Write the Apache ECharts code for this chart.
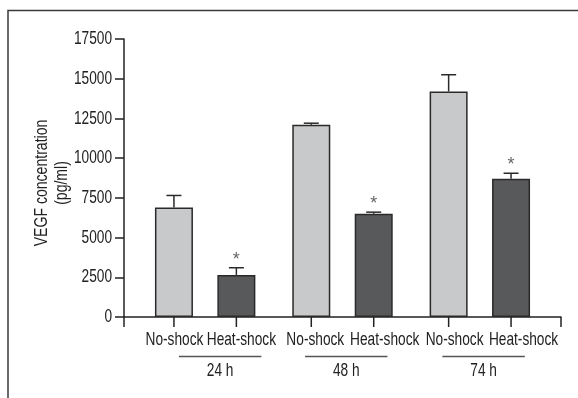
<!DOCTYPE html>
<html>
<head>
<meta charset="utf-8">
<script src="https://cdn.jsdelivr.net/npm/echarts@6/dist/echarts.min.js"></script>
<style>
html,body{margin:0;padding:0;background:#fff;}
#chart{width:578px;height:398px;}
</style>
</head>
<body>
<div id="chart"></div>
<script>
// ---- data ----
const groups = ['24 h', '48 h', '74 h'];
const conditions = ['No-shock', 'Heat-shock'];
const noShockMean = [6900, 12100, 14200];
const noShockSEM = [750, 100, 1050];
const heatShockMean = [2650, 6500, 8700];
const heatShockSEM = [450, 100, 350];
const heatShockSignificant = ['*', '*', '*'];
const yTickLabels = ['0', '2500', '5000', '7500', '10000', '12500', '15000', '17500'];
const yAxisTitle = ['VEGF concentration', '(pg/ml)'];
const yMin = 0, yMax = 17500, yInterval = 2500;

// ---- layout constants (not data) ----
const FAMILY = 'Liberation Sans';
const FS = 18.5;
const SX = 0.74; // horizontal condensing of text
const groupSpan = 11, condStep = 5, firstOffset = 4, xMax = 35;
const groupLabelShift = [1.2, 0.3, 0.3];
const catLabelShiftPx = [0.5, 5, 4, 11, 6, 12.5];
const colors = ['#c8c9cb', '#58595b'];

function txt(text, size, fill, align, vAlign) {
  return { text: text, fontSize: size, fontFamily: FAMILY, fill: fill, align: align, verticalAlign: vAlign };
}
function xOf(g, c) { return firstOffset + g * groupSpan + c * condStep; }

const means = [noShockMean, heatShockMean];
const sems = [noShockSEM, heatShockSEM];

const barData = [];
const errData = [];
const catLabelData = [];
const starData = [];
groups.forEach((g, gi) => {
  conditions.forEach((c, ci) => {
    const x = xOf(gi, ci);
    const m = means[ci][gi];
    barData.push({ value: [x, m], itemStyle: { color: colors[ci] } });
    errData.push([x, m, m + sems[ci][gi]]);
    catLabelData.push([x, c]);
    if (ci === 1 && heatShockSignificant[gi]) starData.push([x, m + sems[ci][gi], heatShockSignificant[gi]]);
  });
});
const tickXs = [0, xMax];
groups.forEach((g, gi) => conditions.forEach((c, ci) => tickXs.push(xOf(gi, ci))));
const groupData = groups.map((g, gi) => [(xOf(gi, 0) + xOf(gi, 1)) / 2 + groupLabelShift[gi], g]);

const chart = echarts.init(document.getElementById('chart'), null, { renderer: 'canvas' });
chart.setOption({
  animation: false,
  backgroundColor: '#fff',
  grid: { left: 124, right: 17, top: 39, bottom: 81 },
  graphic: [
    { type: 'polyline', shape: { points: [[8, 398], [8, 10.5], [578, 10.5]] },
      style: { stroke: '#3a3a3a', lineWidth: 1.5, fill: null } },
    { type: 'text', x: 42, y: 183, rotation: Math.PI / 2, scaleX: 0.76,
      style: txt(yAxisTitle[0], FS, '#222', 'center', 'middle') },
    { type: 'text', x: 62, y: 183, rotation: Math.PI / 2, scaleX: 0.76,
      style: txt(yAxisTitle[1], FS, '#222', 'center', 'middle') }
  ],
  xAxis: {
    type: 'value', min: 0, max: xMax,
    axisLine: { show: true, lineStyle: { color: '#222', width: 1.5 } },
    axisTick: { show: false }, axisLabel: { show: false }, splitLine: { show: false }
  },
  yAxis: {
    type: 'value', min: yMin, max: yMax, interval: yInterval,
    axisLine: { show: true, lineStyle: { color: '#222', width: 1.5 } },
    axisTick: { show: true, length: 9, lineStyle: { color: '#222', width: 1.5 } },
    axisLabel: { show: false },
    splitLine: { show: false }
  },
  series: [
    {
      type: 'bar', data: barData, barWidth: 38,
      itemStyle: { borderColor: '#2a2a2a', borderWidth: 1.5 }, z: 2
    },
    {
      type: 'custom', data: errData, z: 3, clip: false,
      renderItem: function (params, api) {
        const x = api.value(0);
        const p0 = api.coord([x, api.value(1)]);
        const p1 = api.coord([x, api.value(2)]);
        const half = 7.5;
        const st = { stroke: '#2a2a2a', lineWidth: 1.5 };
        return { type: 'group', children: [
          { type: 'line', shape: { x1: p0[0], y1: p0[1], x2: p1[0], y2: p1[1] }, style: st },
          { type: 'line', shape: { x1: p1[0] - half, y1: p1[1], x2: p1[0] + half, y2: p1[1] }, style: st }
        ] };
      }
    },
    {
      type: 'custom', data: starData, z: 3, clip: false,
      renderItem: function (params, api) {
        const p = api.coord([api.value(0), api.value(1)]);
        return { type: 'text', x: p[0], y: p[1] + 1,
          style: txt(starData[params.dataIndex][2], 18, '#666', 'center', 'bottom') };
      }
    },
    {
      type: 'custom', data: yTickLabels.map(t => [0, Number(t)]), z: 3, clip: false,
      renderItem: function (params, api) {
        const p = api.coord([0, api.value(1)]);
        return { type: 'text', x: p[0] - 12, y: p[1], scaleX: SX,
          style: txt(yTickLabels[params.dataIndex], FS, '#222', 'right', 'middle') };
      }
    },
    {
      type: 'custom', data: tickXs.map(v => [v, 0]), z: 3, clip: false,
      renderItem: function (params, api) {
        const p = api.coord([api.value(0), 0]);
        return { type: 'line', shape: { x1: p[0], y1: p[1], x2: p[0], y2: p[1] + 10 },
          style: { stroke: '#222', lineWidth: 1.5 } };
      }
    },
    {
      type: 'custom', data: catLabelData.map(d => [d[0], 0]), z: 3, clip: false,
      renderItem: function (params, api) {
        const p = api.coord([api.value(0), 0]);
        return { type: 'text', x: p[0] + catLabelShiftPx[params.dataIndex], y: p[1] + 23, scaleX: SX,
          style: txt(catLabelData[params.dataIndex][1], FS, '#222', 'center', 'middle') };
      }
    },
    {
      type: 'custom', data: groupData.map(d => [d[0], 0]), z: 3, clip: false,
      renderItem: function (params, api) {
        const p = api.coord([api.value(0), 0]);
        const unit = api.size([1, 0])[0];
        const halfW = 3.3 * unit;
        return { type: 'group', children: [
          { type: 'line', shape: { x1: p[0] - halfW, y1: p[1] + 39.5, x2: p[0] + halfW, y2: p[1] + 39.5 },
            style: { stroke: '#555', lineWidth: 1.5 } },
          { type: 'text', x: p[0], y: p[1] + 54, scaleX: SX,
            style: txt(groupData[params.dataIndex][1], FS, '#222', 'center', 'middle') }
        ] };
      }
    }
  ]
});
</script>
</body>
</html>
